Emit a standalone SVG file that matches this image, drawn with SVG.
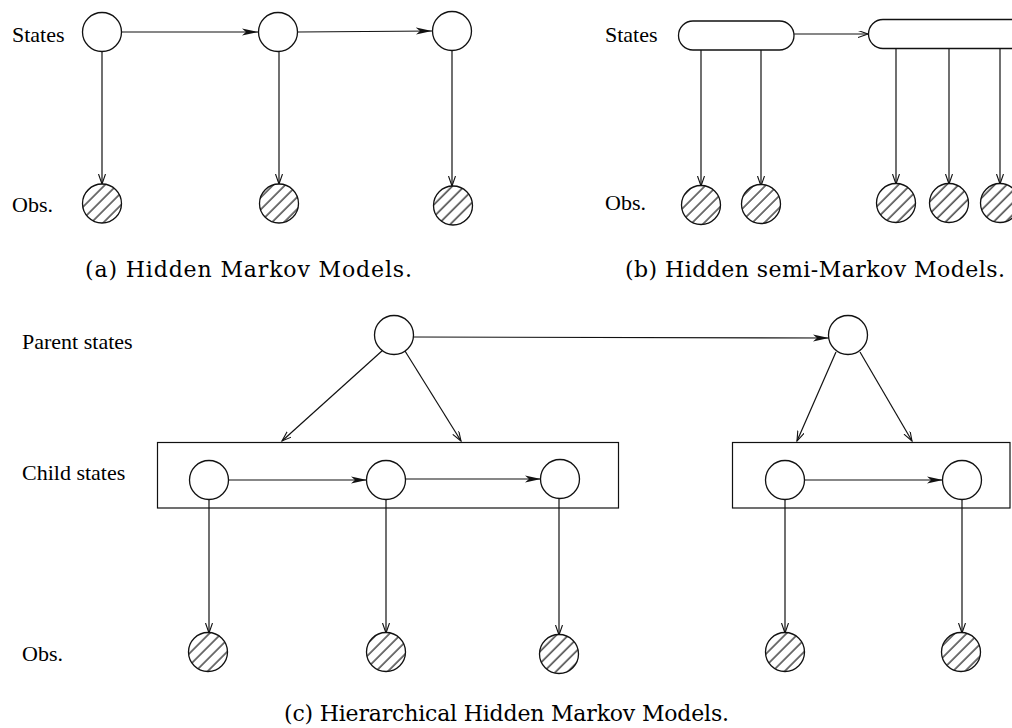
<svg xmlns="http://www.w3.org/2000/svg" width="1012" height="728" viewBox="0 0 1012 728">
<style>
.n{fill:#fff;stroke:#111;stroke-width:1.3}
.o{fill:url(#hatch);stroke:#111;stroke-width:1.3}
.e{fill:none;stroke:#111;stroke-width:1.2}
.f{marker-end:url(#filled)}
.v{marker-end:url(#open)}
.lbl{font-family:"Liberation Serif","Times New Roman",serif;font-size:22px;fill:#000}
.cap{font-family:"DejaVu Serif","Liberation Serif",serif;font-size:22px;fill:#000}
</style>
<defs>
<pattern id="hatch" patternUnits="userSpaceOnUse" width="8.5" height="8.5" patternTransform="rotate(45)">
<rect width="8.5" height="8.5" fill="#fff"/>
<line x1="1" y1="0" x2="1" y2="8.5" stroke="#000" stroke-width="1.1"/>
</pattern>
<marker id="filled" markerUnits="userSpaceOnUse" markerWidth="18" markerHeight="10" refX="16" refY="4" orient="auto">
<path d="M0,0.5 L16,4 L0,7.5 L4,4 Z" fill="#111"/>
</marker>
<marker id="open" markerUnits="userSpaceOnUse" markerWidth="12" markerHeight="10" refX="10" refY="3.5" orient="auto">
<path d="M0,0 L10,3.5 L0,7" fill="none" stroke="#111" stroke-width="1.1"/>
</marker>
</defs>

<g id="connectors">
<line class="e f" x1="122" y1="32" x2="258" y2="32"/>
<line class="e f" x1="298" y1="32" x2="432" y2="31"/>
<line class="e v" x1="102" y1="52" x2="102" y2="184"/>
<line class="e v" x1="279" y1="52" x2="279" y2="184"/>
<line class="e v" x1="452" y1="51" x2="452" y2="186"/>
<line class="e v" x1="794" y1="34" x2="868" y2="34"/>
<line class="e v" x1="701" y1="50" x2="701" y2="186"/>
<line class="e v" x1="761" y1="50" x2="761" y2="186"/>
<line class="e v" x1="896" y1="49" x2="896" y2="184"/>
<line class="e v" x1="949" y1="49" x2="949" y2="184"/>
<line class="e v" x1="1000" y1="49" x2="1000" y2="184"/>
<line class="e f" x1="413" y1="337" x2="829" y2="338"/>
<line class="e v" x1="383" y1="350" x2="282" y2="441"/>
<line class="e v" x1="405" y1="351" x2="461" y2="441"/>
<line class="e v" x1="836" y1="352" x2="797" y2="441"/>
<line class="e v" x1="860" y1="352" x2="912" y2="441"/>
<line class="e f" x1="228" y1="480" x2="367" y2="480"/>
<line class="e f" x1="405" y1="479" x2="541" y2="479"/>
<line class="e f" x1="804" y1="480" x2="943" y2="480"/>
<line class="e v" x1="209" y1="499" x2="209" y2="633"/>
<line class="e v" x1="386" y1="499" x2="386" y2="633"/>
<line class="e v" x1="559" y1="498" x2="559" y2="635"/>
<line class="e v" x1="785" y1="499" x2="785" y2="633"/>
<line class="e v" x1="962" y1="499" x2="962" y2="633"/>
</g>

<g id="labels">
<text class="lbl" x="12" y="42">States</text>
<text class="lbl" x="12" y="212">Obs.</text>
<text class="lbl" x="605" y="42">States</text>
<text class="lbl" x="605" y="210">Obs.</text>
<text class="lbl" x="22" y="349">Parent states</text>
<text class="lbl" x="22" y="480">Child states</text>
<text class="lbl" x="22" y="661">Obs.</text>
<text class="cap" x="85" y="277" textLength="327">(a) Hidden Markov Models.</text>
<text class="cap" x="625" y="277" textLength="380">(b) Hidden semi-Markov Models.</text>
<text class="cap" x="284" y="721" textLength="445">(c) Hierarchical Hidden Markov Models.</text>
</g>

<g id="a-s1"><circle class="n" cx="102" cy="32" r="19.5"/></g>
<g id="a-s2"><circle class="n" cx="278" cy="32" r="19.5"/></g>
<g id="a-s3"><circle class="n" cx="452" cy="31" r="19.5"/></g>
<g id="a-o1"><circle class="o" cx="102" cy="203.5" r="19.5"/></g>
<g id="a-o2"><circle class="o" cx="279" cy="203.5" r="19.5"/></g>
<g id="a-o3"><circle class="o" cx="453" cy="205.5" r="19.5"/></g>

<g id="b-s1"><rect class="n" x="678.5" y="21" width="115.5" height="29" rx="14.5"/></g>
<g id="b-s2"><rect class="n" x="868.5" y="19.5" width="170" height="29" rx="14.5"/></g>
<g id="b-o1"><circle class="o" cx="701" cy="205" r="19.5"/></g>
<g id="b-o2"><circle class="o" cx="761" cy="204" r="19.5"/></g>
<g id="b-o3"><circle class="o" cx="896" cy="203" r="19.5"/></g>
<g id="b-o4"><circle class="o" cx="949" cy="203" r="19.5"/></g>
<g id="b-o5"><circle class="o" cx="1000" cy="203" r="19.5"/></g>

<g id="c-p1"><circle class="n" cx="394" cy="335" r="19.5"/></g>
<g id="c-p2"><circle class="n" cx="848" cy="335" r="19.5"/></g>
<g id="c-box1"><rect class="e" x="157.5" y="442.5" width="461" height="65.5"/></g>
<g id="c-box2"><rect class="e" x="732.5" y="442.5" width="277.5" height="65.5"/></g>
<g id="c-c1"><circle class="n" cx="209" cy="480" r="19.5"/></g>
<g id="c-c2"><circle class="n" cx="386" cy="480" r="19.5"/></g>
<g id="c-c3"><circle class="n" cx="560" cy="479" r="19.5"/></g>
<g id="c-c4"><circle class="n" cx="785" cy="480" r="19.5"/></g>
<g id="c-c5"><circle class="n" cx="962" cy="480" r="19.5"/></g>
<g id="c-o1"><circle class="o" cx="208" cy="652" r="19.5"/></g>
<g id="c-o2"><circle class="o" cx="386" cy="652" r="19.5"/></g>
<g id="c-o3"><circle class="o" cx="559" cy="654" r="19.5"/></g>
<g id="c-o4"><circle class="o" cx="785" cy="652" r="19.5"/></g>
<g id="c-o5"><circle class="o" cx="961" cy="652" r="19.5"/></g>
</svg>
